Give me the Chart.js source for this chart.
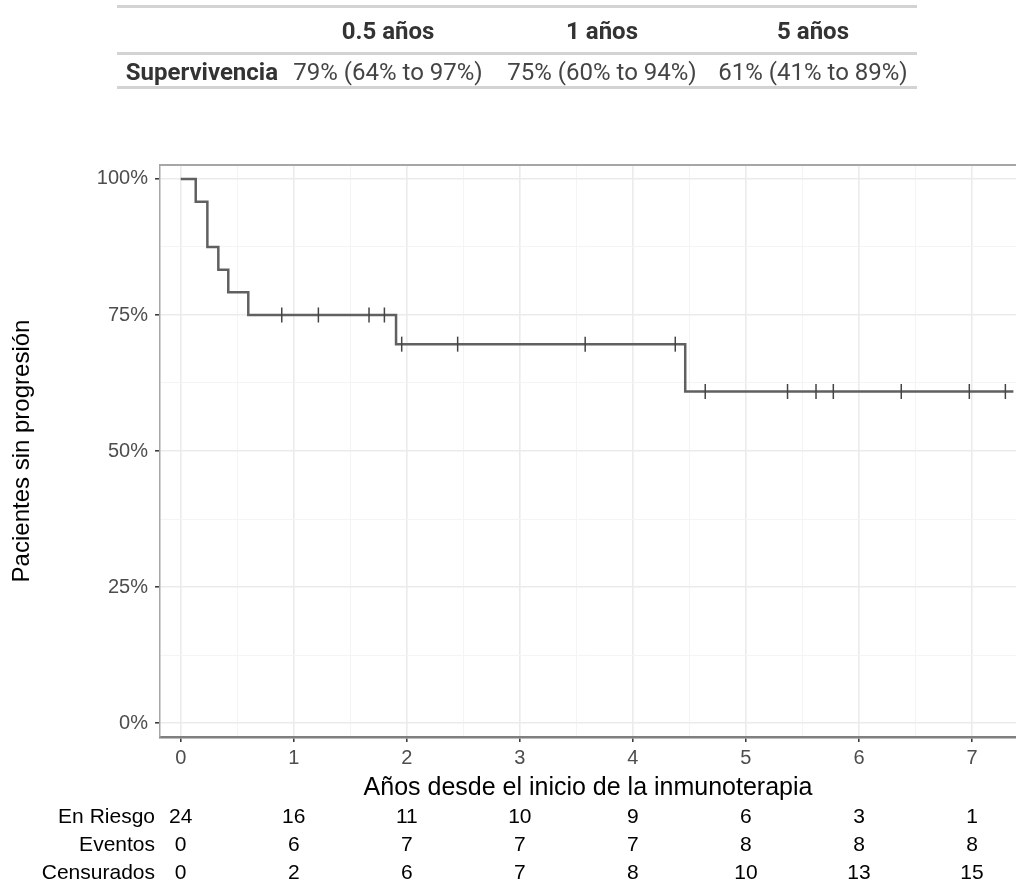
<!DOCTYPE html>
<html lang="es">
<head>
    <meta charset="UTF-8">
    <title>Supervivencia libre de progresión</title>
    <script src="https://cdn.jsdelivr.net/npm/chart.js@4.4.1/dist/chart.umd.min.js"></script>
    <style>
        body { margin: 0; background: #fff; }
        #wrap { position: relative; width: 1016px; height: 888px; }
        #chartBox { position: absolute; left: 0; top: 0; width: 1016px; height: 888px; }
        .rule { position: absolute; left: 117px; width: 800px; height: 3px; background: #d3d3d3; }
        .cell { position: absolute; font-family: Roboto, "Liberation Sans", sans-serif; font-size: 24px; color: #333; white-space: nowrap; transform: translate(-50%, -50%); }
        .bold { font-weight: bold; }
    </style>
</head>

<body>
<div id="wrap">
    <div id="chartBox"><canvas id="myChart"></canvas></div>
    <div id="table"></div>
</div>

<script>
    // tabla resumen
    var tableHeaders = ['0.5 años', '1 años', '5 años'];
    var tableRowLabel = 'Supervivencia';
    var tableValues = ['79% (64% to 97%)', '75% (60% to 94%)', '61% (41% to 89%)'];

    // curva de Kaplan-Meier (tiempos en años)
    var kmTimes = [0, 0.133, 0.236, 0.333, 0.421, 0.598, 1.905, 4.463, 7.366];
    var kmSurv = [1, 0.9583, 0.875, 0.8333, 0.7917, 0.75, 0.6964, 0.6094, 0.6094];

    // censuras
    var censorTimes = [0.894, 1.218, 1.666, 1.802, 1.955, 2.45, 3.578, 4.375, 4.64, 5.368, 5.62, 5.773, 6.374, 6.976, 7.295];
    var censorSurv = [0.75, 0.75, 0.75, 0.75, 0.6964, 0.6964, 0.6964, 0.6964, 0.6094, 0.6094, 0.6094, 0.6094, 0.6094, 0.6094, 0.6094];

    // tabla de riesgo
    var riskTimes = [0, 1, 2, 3, 4, 5, 6, 7];
    var riskLabels = ['En Riesgo', 'Eventos', 'Censurados'];
    var atRisk = [24, 16, 11, 10, 9, 6, 3, 1];
    var events = [0, 6, 7, 7, 7, 8, 8, 8];
    var censored = [0, 2, 6, 7, 8, 10, 13, 15];

    var xTicks = [0, 0.5, 1, 1.5, 2, 2.5, 3, 3.5, 4, 4.5, 5, 5.5, 6, 6.5, 7];
    var yTicks = [0, 0.125, 0.25, 0.375, 0.5, 0.625, 0.75, 0.875, 1];

    // --- tabla html ---
    var t = document.getElementById('table');
    var colX = [388, 602, 813];
    var html = '';
    html += '<div class="rule" style="top:5px"></div>';
    html += '<div class="rule" style="top:52px"></div>';
    html += '<div class="rule" style="top:86px"></div>';
    tableHeaders.forEach(function (h, i) {
        html += '<div class="cell bold" style="left:' + colX[i] + 'px;top:31px">' + h + '</div>';
    });
    html += '<div class="cell bold" style="left:278px;top:72px;transform:translate(-100%,-50%)">' + tableRowLabel + '</div>';
    tableValues.forEach(function (v, i) {
        html += '<div class="cell" style="left:' + colX[i] + 'px;top:72px;color:#444">' + v + '</div>';
    });
    t.innerHTML = html;

    // --- grafico ---
    var ctx = document.getElementById('myChart').getContext('2d');
    var fontFam = '"Liberation Sans", Arial, sans-serif';

    var kmData = kmTimes.map(function (x, i) { return {x: x, y: kmSurv[i]}; });
    var censorData = censorTimes.map(function (x, i) { return {x: x, y: censorSurv[i]}; });

    var extras = {
        id: 'extras',
        afterDraw: function (chart) {
            var c = chart.ctx;
            var a = chart.chartArea;
            var xs = chart.scales.x;
            // borde superior
            c.save();
            c.strokeStyle = '#a6a6a6';
            c.lineWidth = 2;
            c.beginPath();
            c.moveTo(a.left, a.top);
            c.lineTo(a.right, a.top);
            c.stroke();

            // tabla de riesgo
            var rows = [atRisk, events, censored];
            var rowY = [817, 845, 873];
            c.font = '21px ' + fontFam;
            c.fillStyle = '#000';
            c.textBaseline = 'middle';
            rows.forEach(function (row, r) {
                c.textAlign = 'right';
                c.fillText(riskLabels[r], 155, rowY[r]);
                c.textAlign = 'center';
                row.forEach(function (v, i) {
                    c.fillText(String(v), xs.getPixelForValue(riskTimes[i]), rowY[r]);
                });
            });
            c.restore();
        }
    };

    var chart = new Chart(ctx, {
        type: 'line',
        data: {
            datasets: [{
                data: censorData,
                showLine: false,
                pointStyle: 'line',
                rotation: 90,
                pointRadius: 7.5,
                pointBorderWidth: 1.5,
                pointBorderColor: '#444',
                pointBackgroundColor: '#444'
            }, {
                data: kmData,
                stepped: 'before',
                borderColor: '#606060',
                borderWidth: 2.5,
                pointRadius: 0,
                fill: false
            }]
        },
        options: {
            responsive: true,
            maintainAspectRatio: false,
            animation: false,
            events: [],
            layout: {autoPadding: false, padding: {top: 165, left: 0, right: 0, bottom: 0}},
            plugins: {legend: {display: false}, tooltip: {enabled: false}},
            scales: {
                x: {
                    type: 'linear',
                    min: -0.183,
                    max: 7.389,
                    afterBuildTicks: function (s) { s.ticks = xTicks.map(function (v) { return {value: v}; }); },
                    afterFit: function (s) { s.height = 151; },
                    ticks: {
                        padding: 4,
                        color: '#4d4d4d',
                        font: {family: fontFam, size: 20},
                        maxRotation: 0,
                        autoSkip: false,
                        callback: function (v) { return Number.isInteger(v) ? String(v) : ''; }
                    },
                    grid: {
                        color: function (c) { return Number.isInteger(c.tick.value) ? '#ebebeb' : '#f4f4f4'; },
                        lineWidth: function (c) { return Number.isInteger(c.tick.value) ? 1.6 : 1; },
                        tickColor: function (c) { return Number.isInteger(c.tick.value) ? '#333' : 'rgba(0,0,0,0)'; },
                        tickWidth: 1.5,
                        tickLength: 5
                    },
                    border: {color: '#7f7f7f', width: 2.5},
                    title: {
                        display: true,
                        text: 'Años desde el inicio de la inmunoterapia',
                        color: '#000',
                        font: {family: fontFam, size: 25},
                        padding: {top: 0, bottom: 85}
                    }
                },
                y: {
                    min: -0.0257,
                    max: 1.0257,
                    afterBuildTicks: function (s) { s.ticks = yTicks.map(function (v) { return {value: v}; }); },
                    afterFit: function (s) { s.width = 160; },
                    ticks: {
                        padding: 7,
                        color: '#4d4d4d',
                        font: {family: fontFam, size: 20},
                        callback: function (v) { return Number.isInteger(v * 4) ? Math.round(v * 100) + '%' : ''; }
                    },
                    grid: {
                        color: function (c) { return Number.isInteger(c.tick.value * 4) ? '#ebebeb' : '#f4f4f4'; },
                        lineWidth: function (c) { return Number.isInteger(c.tick.value * 4) ? 1.6 : 1; },
                        tickColor: function (c) { return Number.isInteger(c.tick.value * 4) ? '#333' : 'rgba(0,0,0,0)'; },
                        tickWidth: 1.5,
                        tickLength: 5
                    },
                    border: {color: '#a6a6a6', width: 1.5},
                    title: {
                        display: true,
                        text: 'Pacientes sin progresión',
                        color: '#000',
                        font: {family: fontFam, size: 24},
                        padding: {top: 8, bottom: 0}
                    }
                }
            }
        },
        plugins: [extras]
    });
</script>
</body>
</html>
